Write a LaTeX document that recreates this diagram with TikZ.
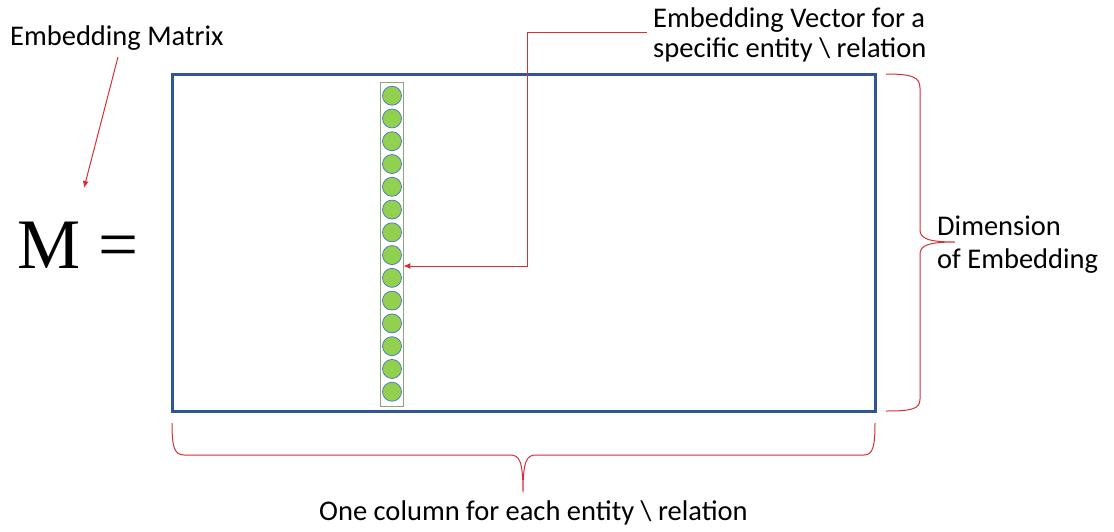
\documentclass[tikz,border=0pt]{standalone}
\usepackage{fontspec}
\setmainfont{Carlito}
\newfontfamily\serifM{Liberation Serif}
\usetikzlibrary{arrows.meta}
\definecolor{matblue}{RGB}{47,85,151}
\definecolor{cellgreen}{RGB}{146,208,80}
\definecolor{cellblue}{RGB}{68,114,196}
\definecolor{colframe}{RGB}{140,165,120}
\definecolor{notered}{RGB}{216,46,56}
\tikzset{
  lbl/.style={font=\fontsize{28.5}{32}\selectfont, inner sep=0pt, align=left},
  noteline/.style={draw=notered, line width=1pt},
  notearrow/.style={noteline, -{Latex[length=7pt,width=6pt]}},
  matrixbox/.style={draw=matblue, line width=3pt, minimum width=703pt, minimum height=337pt, inner sep=0pt},
  colbox/.style={draw=colframe, line width=0.8pt, minimum width=23pt, minimum height=324pt, inner sep=0pt},
  cell/.style={circle, draw=cellblue, fill=cellgreen, line width=0.7pt, minimum size=19pt, inner sep=0pt}
}
\begin{document}
\begin{tikzpicture}[x=1pt, y=-1pt]
  \useasboundingbox (0,0) rectangle (1114,531);

  % the matrix and one of its columns
  \node[matrixbox] (mat) at (523.5,242.5) {};
  \node[colbox] (col) at (391.5,244) {};
  \foreach \i in {1,...,14} {
    \node[cell] (c\i) at (392, 95.7 + 22.77*\i - 22.77) {};
  }

  % M =
  \node[anchor=base west, inner sep=0pt, font=\serifM\fontsize{71}{71}\selectfont] (meq) at (17,268) {M =};

  % labels (base anchor of a two-line label sits on its last line)
  \node[lbl, anchor=base west] (mlab) at (10,45) {Embedding Matrix};
  \node[lbl, anchor=base west] (vlab) at (653,57) {Embedding Vector for a\\[-2pt]specific entity \textbackslash{} relation};
  \node[lbl, anchor=base west] (dlab) at (937,268) {Dimension\\[1pt]of Embedding};
  \node[lbl, anchor=base west] (clab) at (319,520) {One column for each entity \textbackslash{} relation};

  % arrow to the M
  \coordinate (mstart) at (118,57);
  \coordinate (mend) at (84,188);
  \draw[notearrow] (mstart) -- (mend);

  % elbow arrow from the vector label to the column
  \coordinate (vstart) at (647,32.5);
  \coordinate (vcorner) at (527,32.5);
  \coordinate (vbend) at (527,266);
  \draw[notearrow] (vstart) -- (vcorner) -- (vbend) -- (col.east |- vbend);

  % brace along the rows
  \draw[noteline] (886,74) .. controls (912,74) and (920,77) .. (920,88)
    -- (920,230) .. controls (920,239) and (930,242) .. (955,242)
    .. controls (930,242) and (920,245) .. (920,254)
    -- (920,399) .. controls (920,409) and (912,411) .. (886,411);

  % brace along the columns
  \draw[noteline] (172,423) .. controls (172,446) and (174,455) .. (184,455)
    -- (510,455) .. controls (519,455) and (523,460) .. (523,492)
    .. controls (523,460) and (527,455) .. (536,455)
    -- (864,455) .. controls (873,455) and (875,446) .. (875,423);
\end{tikzpicture}
\end{document}
